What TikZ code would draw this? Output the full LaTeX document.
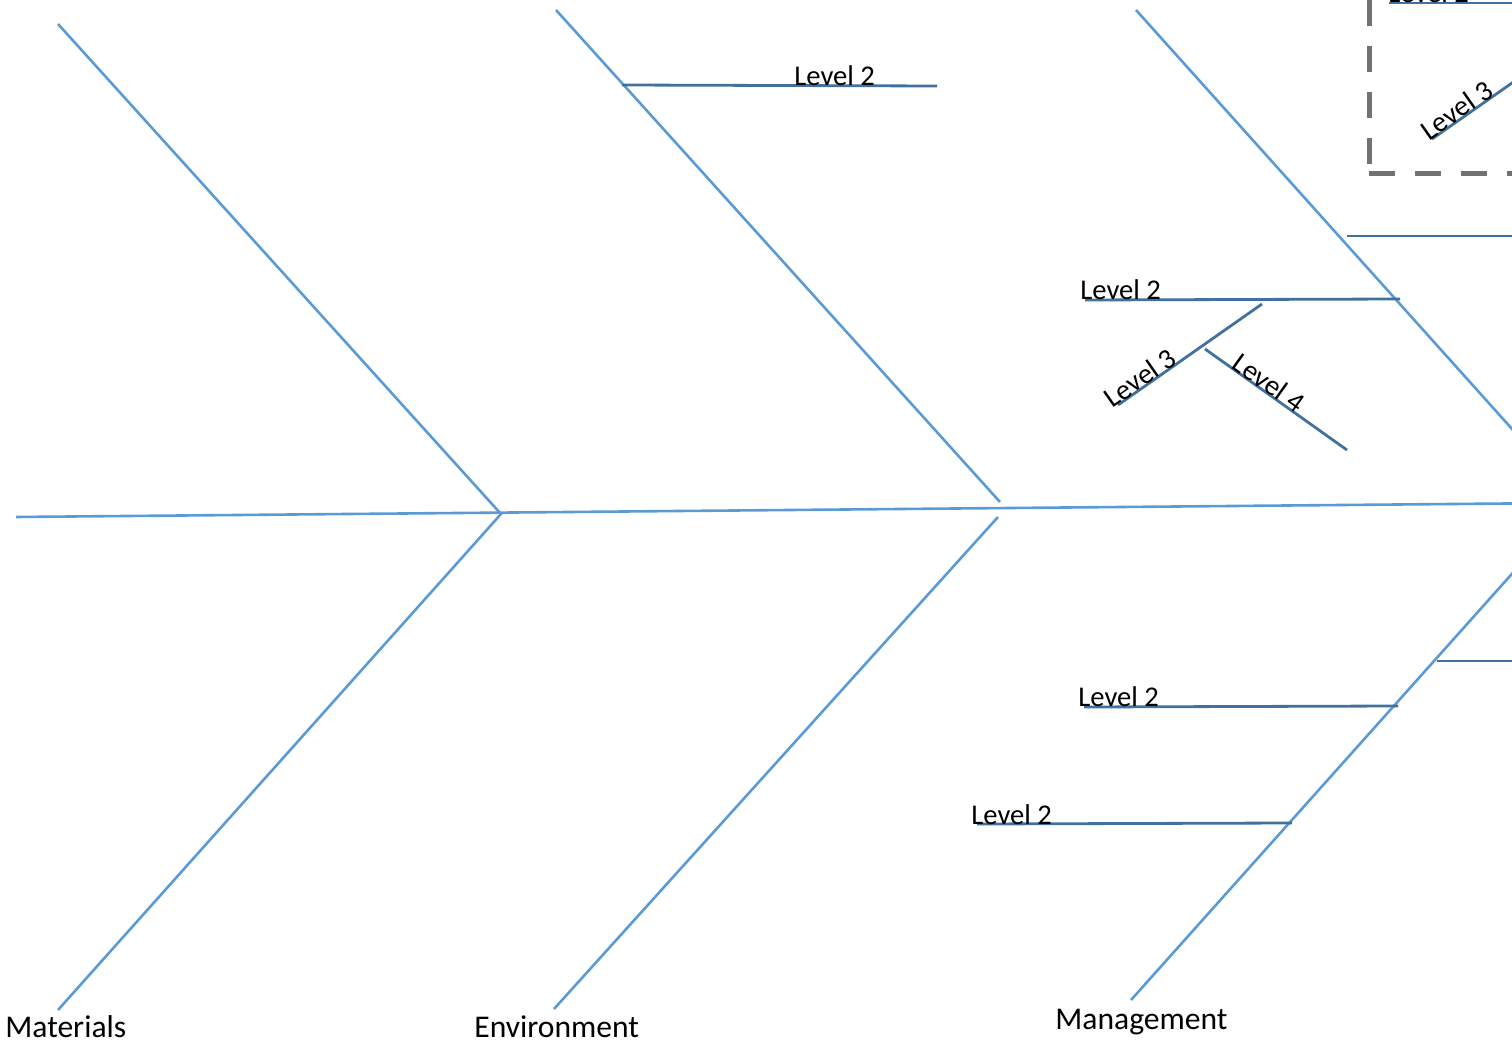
\documentclass[tikz,border=0pt]{standalone}
\usepackage{fontspec}
\setmainfont{Carlito}
\usepackage{xcolor}
\usetikzlibrary{positioning}
\definecolor{bonecol}{HTML}{5B9BD5}
\definecolor{twigcol}{HTML}{41719C}
\definecolor{framecol}{HTML}{767171}
\tikzset{
  bone/.style   = {draw=bonecol, line width=1.3pt},
  twig/.style   = {draw=twigcol, line width=1.4pt},
  lvl/.style    = {inner sep=0pt, anchor=base west,
                   font=\fontsize{14.3}{17}\selectfont},
  cat/.style    = {inner sep=0pt, anchor=base west,
                   font=\fontsize{15.8}{19}\selectfont},
  frame/.style  = {draw=framecol, line width=2.5pt,
                   dash pattern=on 13pt off 10pt},
}

\begin{document}
\begin{tikzpicture}[x=0.5pt, y=-0.5pt]
  \useasboundingbox (0,0) rectangle (1512,1043);
  \clip (0,0) rectangle (1512,1043);

  % spine
  \coordinate (tail) at (16,517);
  \coordinate (head) at (1530,503.3);
  \draw[bone] (tail) -- (head);

  % Materials
  \coordinate (mat-top) at (58,24);
  \coordinate (mat-joint) at (501,514);
  \coordinate (mat-bot) at (58,1010);
  \draw[bone] (mat-top) -- (mat-joint) -- (mat-bot);

  % Environment
  \coordinate (env-top) at (556,10);
  \coordinate (env-up) at (1000,502);
  \coordinate (env-lo) at (998,517);
  \coordinate (env-bot) at (554,1009);
  \draw[bone] (env-top) -- (env-up);
  \draw[bone] (env-lo) -- (env-bot);

  % Management
  \coordinate (man-top) at (1136,10);
  \coordinate (man-up) at (1530,449);
  \coordinate (man-lo) at (1527,557);
  \coordinate (man-bot) at (1131,1000);
  \draw[bone] (man-top) -- (man-up);
  \draw[bone] (man-lo) -- (man-bot);

  % level 2 / 3 / 4 twigs
  \coordinate (e2a) at (622,85);   \coordinate (e2b) at (937,86);
  \coordinate (m2a) at (1085,300); \coordinate (m2b) at (1400,299);
  \coordinate (m3a) at (1118,405); \coordinate (m3b) at (1262,304);
  \coordinate (m4a) at (1205,349); \coordinate (m4b) at (1347,450);
  \coordinate (q1a) at (1347,236); \coordinate (q1b) at (1530,236);
  \coordinate (q2a) at (1389,3);   \coordinate (q2b) at (1530,3);
  \coordinate (q3a) at (1432,139); \coordinate (q3b) at (1532,69);
  \coordinate (r1a) at (1437,661); \coordinate (r1b) at (1530,661);
  \coordinate (r2a) at (1084,707); \coordinate (r2b) at (1398,706);
  \coordinate (r3a) at (977,824);  \coordinate (r3b) at (1292,823);

  \draw[twig] (e2a) -- (e2b);
  \draw[twig] (m2a) -- (m2b);
  \draw[twig] (m3a) -- (m3b);
  \draw[twig] (m4a) -- (m4b);
  \draw[twig] (q1a) -- (q1b);
  \draw[twig] (q2a) -- (q2b);
  \draw[twig] (q3a) -- (q3b);
  \draw[twig] (r1a) -- (r1b);
  \draw[twig] (r2a) -- (r2b);
  \draw[twig] (r3a) -- (r3b);

  % dashed frame
  \coordinate (fr-corner) at (1369,174);
  \coordinate (fr-top) at (1369,-20);
  \coordinate (fr-right) at (1540,174);
  \draw[frame, dash phase=18pt] (fr-corner) -- (fr-top);
  \draw[frame] (fr-corner) -- (fr-right);

  % labels
  \node[lvl] (e2lbl) at (794,86) {Level 2};
  \node[lvl] (m2lbl) at (1080,300) {Level 2};
  \node[lvl] (r2lbl) at (1078,706) {Level 2};
  \node[lvl] (r3lbl) at (971,824) {Level 2};
  \node[lvl] (q2lbl) at (1388,3) {Level 2};
  \path (m3a) -- (m3b) node[lvl, sloped, anchor=base, pos=0.19] (m3lbl) {Level 3};
  \path (m4a) -- (m4b) node[lvl, sloped, anchor=base, pos=0.41] (m4lbl) {Level 4};
  \path (q3a) -- (q3b) node[lvl, sloped, anchor=base, pos=0.30] (q3lbl) {Level 3};

  \node[cat] (matlbl) at (5,1037) {Materials};
  \node[cat] (envlbl) at (474,1037) {Environment};
  \node[cat] (manlbl) at (1055,1029) {Management};
\end{tikzpicture}
\end{document}
